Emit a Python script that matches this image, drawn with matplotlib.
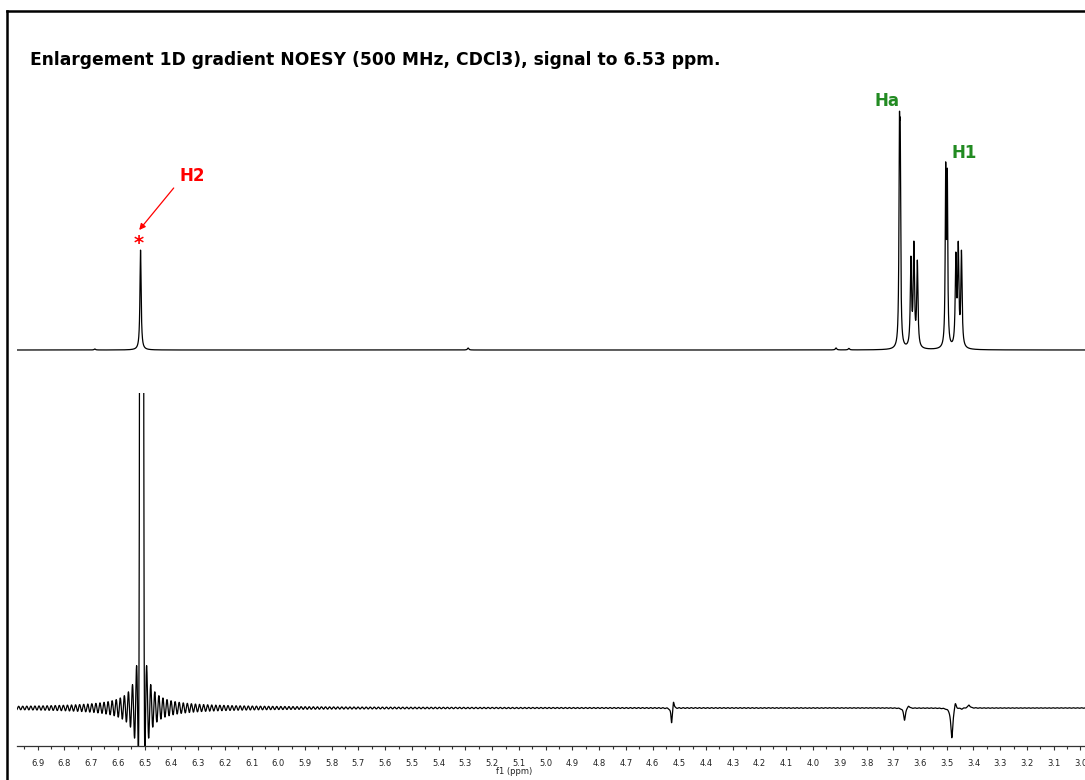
"""
1D gradient NOESY enlargement - selective excitation at 6.53 ppm
Reference 1H spectrum on top, NOE difference trace below
"""
import numpy as np
import matplotlib.pyplot as plt
from matplotlib.lines import Line2D
from matplotlib.ticker import MultipleLocator, FormatStrFormatter

# Figure geometry (pixels)
W, H = 1085, 780
X_LEFT = 17
PPM_RANGE = (6.977, 2.983)

# Reference 1H spectrum: line positions (ppm), peak heights, half widths (ppm)
ref_ppm = [6.515, 3.677, 3.674, 3.634, 3.623, 3.610, 3.504, 3.498, 3.466, 3.457, 3.445]
ref_height = [100, 234, 227, 94, 109, 90, 188, 182, 98, 109, 100]
ref_width = [0.0026, 0.0021, 0.0021, 0.0027, 0.0027, 0.0027,
              0.0021, 0.0021, 0.0027, 0.0027, 0.0027]

# small impurity lines on the reference baseline
imp_ppm = [6.686, 5.290, 3.914, 3.866]
imp_height = [1.0, 2.0, 2.0, 1.5]
imp_width = [0.003, 0.003, 0.003, 0.003]

# NOESY trace: irradiated signal (clipped) and its truncation ringing
sel_ppm = 6.511
sel_height = 3500
sel_sigma = 0.0037
ring_height = 330
ring_period = 0.0152

# NOE responses (negative lobes with small dispersive tails)
noe_ppm = [4.529, 4.522, 3.658, 3.643, 3.481, 3.468, 3.444, 3.417]
noe_height = [-15, 6, -12, 2, -30, 4, -1, 3]
noe_width = [0.0028, 0.0028, 0.004, 0.004, 0.0045, 0.004, 0.004, 0.005]

# Labels
peak_labels = [("Ha", 3.723, 248.5), ("H1", 3.433, 196.7)]
GREEN = "forestgreen"


def lorentz(x, x0, w):
    return w ** 2 / ((x - x0) ** 2 + w ** 2)


def line_sum(x, centers, heights, widths):
    """Sum of Lorentzians scaled so each listed line reaches its height."""
    centers = np.asarray(centers, float)
    widths = np.asarray(widths, float)
    A = np.array([[lorentz(ci, cj, wj) for cj, wj in zip(centers, widths)]
                  for ci in centers])
    amps = np.linalg.solve(A, np.asarray(heights, float))
    y = np.zeros_like(x)
    for c, w, a in zip(centers, widths, amps):
        y += a * lorentz(x, c, w)
    return y


def build_traces():
    ppm = np.linspace(PPM_RANGE[0], PPM_RANGE[1], 14000)
    top = line_sum(ppm, ref_ppm, ref_height, ref_width)
    top += line_sum(ppm, imp_ppm, imp_height, imp_width)

    d = ppm - sel_ppm
    bottom = sel_height * np.exp(-0.5 * (d / sel_sigma) ** 2)
    bottom += ring_height * np.sinc(2 * d / ring_period)
    bottom += line_sum(ppm, noe_ppm, noe_height, noe_width)
    return ppm, top, bottom


def px_axes(fig, y_top, y_bottom):
    return fig.add_axes([X_LEFT / W, 1 - y_bottom / H,
                         (W - X_LEFT) / W, (y_bottom - y_top) / H])


def main():
    ppm, top, bottom = build_traces()

    fig = plt.figure(figsize=(W / 100, H / 100), dpi=100)

    # page frame (left and top edges)
    fig.add_artist(Line2D([7 / W, 7 / W], [0, 1 - 11 / H], color="black", lw=1.8,
                          transform=fig.transFigure))
    fig.add_artist(Line2D([7 / W, 1], [1 - 11 / H, 1 - 11 / H], color="black", lw=1.8,
                          transform=fig.transFigure))

    fig.text(30 / W, 1 - 60 / H,
             "Enlargement 1D gradient NOESY (500 MHz, CDCl3), signal to 6.53 ppm.",
             fontsize=12.3, fontweight="bold", va="center", ha="left")

    # reference spectrum
    ax_top = px_axes(fig, 85, 370)
    ax_top.plot(ppm, top, color="black", lw=0.9)
    ax_top.set_xlim(*PPM_RANGE)
    ax_top.set_ylim(-20, 265)
    ax_top.axis("off")

    for text, x, y in peak_labels:
        ax_top.text(x, y, text, color=GREEN, fontsize=12, fontweight="bold",
                    ha="center", va="center")
    ax_top.text(6.323, 174, "H2", color="red", fontsize=12, fontweight="bold",
                ha="center", va="center")
    ax_top.text(6.521, 107, "*", color="red", fontsize=14, fontweight="bold",
                ha="center", va="center")
    ax_top.annotate("", xy=(6.520, 120), xytext=(6.391, 162),
                    arrowprops=dict(arrowstyle="-|>", color="red", lw=0.9,
                                    mutation_scale=9, shrinkA=0, shrinkB=0))

    # NOESY trace
    ax_bot = px_axes(fig, 393, 746)
    ax_bot.plot(ppm, bottom, color="black", lw=0.9)
    ax_bot.set_xlim(*PPM_RANGE)
    ax_bot.set_ylim(-38, 315)
    for side in ["top", "left", "right"]:
        ax_bot.spines[side].set_visible(False)
    ax_bot.spines["bottom"].set_color("#333333")
    ax_bot.spines["bottom"].set_linewidth(0.9)
    ax_bot.set_yticks([])
    ax_bot.xaxis.set_major_locator(MultipleLocator(0.1))
    ax_bot.xaxis.set_minor_locator(MultipleLocator(0.05))
    ax_bot.xaxis.set_major_formatter(FormatStrFormatter("%.1f"))
    ax_bot.tick_params(axis="x", which="major", length=3.2, width=0.8,
                       color="#333333", labelsize=6, pad=6, labelcolor="#222222")
    ax_bot.tick_params(axis="x", which="minor", length=1.8, width=0.8, color="#333333")

    fig.text(514 / W, 1 - 772 / H, "f1 (ppm)", fontsize=6, ha="center",
             va="center", color="#222222")

    fig.savefig("out.png", dpi=100)


if __name__ == "__main__":
    main()
